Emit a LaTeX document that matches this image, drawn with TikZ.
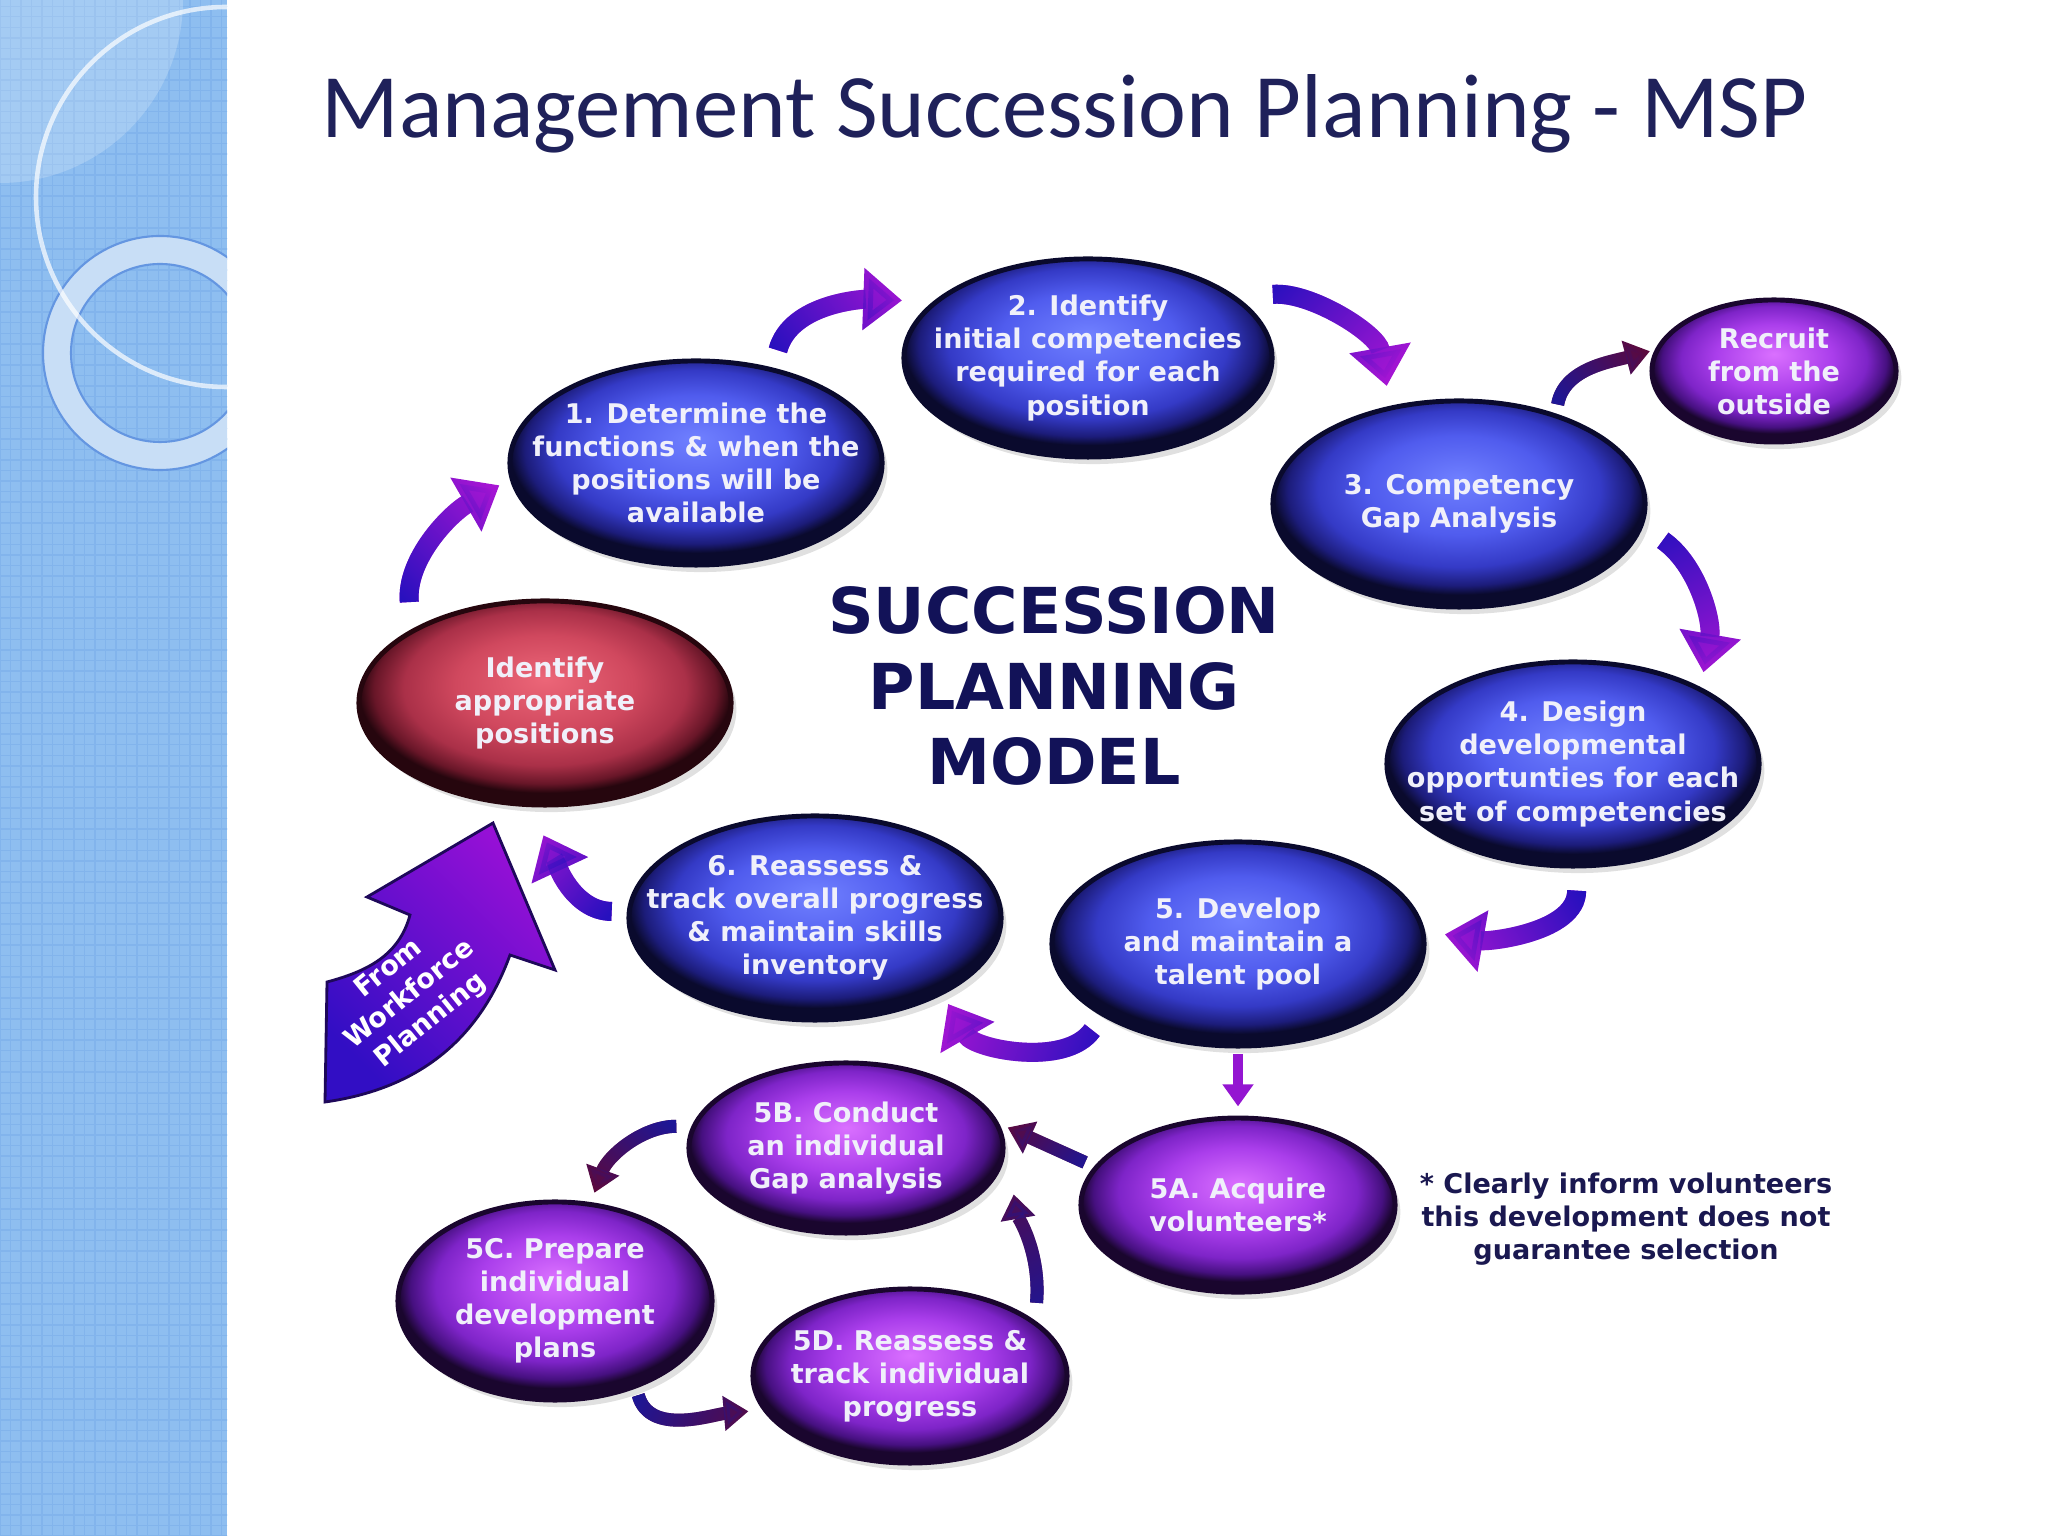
\documentclass[tikz,border=0pt]{standalone}
\usepackage{fontspec}
\usepackage{tikz}
\usetikzlibrary{positioning,arrows.meta,shapes.geometric,fadings,shadows,patterns}

\newfontfamily\slidefont{Carlito}
\newfontfamily\verdfont{DejaVu Sans}
\newcommand{\stagefont}{\verdfont\bfseries\fontsize{7.7}{9.4}\selectfont}

\definecolor{sidebar}{RGB}{142,190,240}
\definecolor{sidebarGrid}{RGB}{130,180,236}
\definecolor{ringFill}{RGB}{200,222,246}
\definecolor{ringEdge}{RGB}{100,150,225}
\definecolor{titleNavy}{RGB}{31,33,90}
\definecolor{modelNavy}{RGB}{18,18,88}
\definecolor{noteNavy}{RGB}{26,24,80}
\definecolor{stageText}{RGB}{240,240,250}

\definecolor{blueA}{RGB}{112,128,255}
\definecolor{blueB}{RGB}{80,92,238}
\definecolor{blueC}{RGB}{52,58,198}
\definecolor{blueD}{RGB}{28,28,122}
\definecolor{blueE}{RGB}{10,10,45}
\definecolor{purpA}{RGB}{218,112,255}
\definecolor{purpB}{RGB}{170,62,235}
\definecolor{purpC}{RGB}{126,36,200}
\definecolor{purpD}{RGB}{70,16,128}
\definecolor{purpE}{RGB}{26,6,46}
\definecolor{redA}{RGB}{236,102,120}
\definecolor{redB}{RGB}{208,72,94}
\definecolor{redC}{RGB}{170,48,72}
\definecolor{redD}{RGB}{104,22,40}
\definecolor{redE}{RGB}{38,6,14}

\definecolor{loopTail}{RGB}{38,16,190}
\definecolor{loopHead}{RGB}{168,22,212}
\definecolor{subTail}{RGB}{30,22,150}
\definecolor{subHead}{RGB}{92,10,62}
\definecolor{wfTail}{RGB}{50,14,196}
\definecolor{wfHead}{RGB}{150,16,214}
\definecolor{wfEdge}{RGB}{30,8,90}

\pgfdeclareradialshading{blueglow}{\pgfpoint{0bp}{6bp}}{color(0bp)=(blueA); color(12bp)=(blueB); color(19bp)=(blueC); color(23bp)=(blueD); color(25bp)=(blueE); color(50bp)=(blueE)}
\pgfdeclareradialshading{purpleglow}{\pgfpoint{0bp}{6bp}}{color(0bp)=(purpA); color(12bp)=(purpB); color(19bp)=(purpC); color(23bp)=(purpD); color(25bp)=(purpE); color(50bp)=(purpE)}
\pgfdeclareradialshading{redglow}{\pgfpoint{0bp}{6bp}}{color(0bp)=(redA); color(12bp)=(redB); color(19bp)=(redC); color(23bp)=(redD); color(25bp)=(redE); color(50bp)=(redE)}

\tikzfading[name=fade tail, left color=transparent!0, right color=transparent!100]

\tikzstyle{flow} = [line width=5.4pt, draw=loopHead, -{Triangle[length=11pt,width=17pt]}]
\tikzstyle{subflow} = [line width=3.7pt, draw=subHead, -{Triangle[length=7pt,width=9.5pt]}]
\tikzstyle{shortflow} = [line width=2.8pt, draw=loopHead!85!loopTail, -{Triangle[length=6.3pt,width=8.5pt]}]
\tikzset{%
	fadeloop/.style = { postaction={draw=loopTail, path fading=fade tail, fading angle=#1} },
	fadesub/.style = { postaction={draw=subTail, path fading=fade tail, fading angle=#1} }
}

\begin{document}
\begin{tikzpicture}[x=0.01cm, y=0.01cm]
\tikzset{%
	stage/.style = { ellipse, draw=blueE, line width=1.4pt, shading=blueglow, minimum width=3.72cm, minimum height=2.04cm, inner xsep=-1cm, inner ysep=0pt, text=stageText, font=\stagefont, align=center, drop shadow={shadow xshift=1.5pt, shadow yshift=-2pt, opacity=0.12, fill=black} },
	substage/.style = { stage, draw=purpE, shading=purpleglow, minimum width=3.14cm, minimum height=1.74cm },
	entry/.style = { stage, draw=redE, shading=redglow },
	note/.style = { text=noteNavy, font=\stagefont, align=center }
}
\useasboundingbox (0,0) rectangle (2048,1536);

% side bar
\fill[sidebar] (0,0) rectangle (227,1536);
\fill[pattern=grid, pattern color=sidebarGrid] (0,0) rectangle (227,1536);
\begin{scope}
	\clip (0,0) rectangle (227,1536);
	\fill[white, opacity=0.2] (0,1536) circle (183);
	\filldraw[draw=ringEdge, fill=ringFill, line width=0.6pt, even odd rule] (160,1183) circle (117) (160,1183) circle (89);
	\draw[white, opacity=0.7, line width=1.3pt] (226,1339) circle (190);
\end{scope}

\node(SlideTitle)		[anchor=base west, text=titleNavy, font=\slidefont\fontsize{25.8}{31}\selectfont] at (309,1398)
								{Management Succession Planning - MSP};

\node(Identify)			[entry] at (545,833)
								{Identify\\appropriate\\positions};
\node(Determine)		[stage] at (696,1073)
								{1. Determine the\\functions \& when the\\positions will be\\available};
\node(Competencies)	[stage, minimum width=3.68cm, minimum height=1.98cm] at (1088,1178)
								{2. Identify\\initial competencies\\required for each\\position};
\node(GapAnalysis)		[stage, minimum height=2.06cm] at (1459,1032)
								{3. Competency\\Gap Analysis};
\node(Recruit)			[substage, minimum width=2.44cm, minimum height=1.42cm] at (1774,1165)
								{Recruit\\from the\\outside};
\node(Design)			[stage] at (1573,772)
								{4. Design\\developmental\\opportunties for each\\set of competencies};
\node(Develop)			[stage] at (1238,592)
								{5. Develop\\and maintain a\\talent pool};
\node(Reassess)			[stage] at (815,618)
								{6. Reassess \&\\track overall progress\\\& maintain skills\\inventory};
\node(Acquire)			[substage, below=0.67cm of Develop]
								{5A. Acquire\\volunteers*};
\node(Conduct)			[substage, minimum height=1.70cm] at (846,388)
								{5B. Conduct\\an individual\\Gap analysis};
\node(Prepare)			[substage, minimum height=1.98cm] at (555,235)
								{5C. Prepare\\individual\\development\\plans};
\node(Track)			[substage] at (910,160)
								{5D. Reassess \&\\track individual\\progress};

\node(ModelTitle)		[text=modelNavy, font=\verdfont\bfseries\fontsize{18}{21.6}\selectfont, align=center] at (1054,850)
								{SUCCESSION\\PLANNING\\MODEL};
\node(Note)				[note] at (1626,317)
								{* Clearly inform volunteers\\this development does not\\guarantee selection};

% incoming arrow
\shadedraw[draw=wfEdge, line width=0.8pt, top color=wfHead, bottom color=wfTail, shading angle=-45]
	(325,434) to[out=8,in=250] (510,581) -- (555,566) -- (493,713) -- (367,639) -- (410,621) to[out=255,in=15] (327,554) -- cycle;
\node(Workforce)		[rotate=39, text=white, font=\stagefont, align=center] at (410,541)
								{From\\Workforce\\Planning};

\draw [flow, fadeloop=53, shorten <=7.7pt, shorten >=3.4pt]		(Identify.151) to[out=95,in=210] (Determine.185);
\draw [flow, fadeloop=20, shorten <=5.1pt, shorten >=8.8pt]		(Determine.51) to[out=75,in=178] (Competencies.160);
\draw [flow, fadeloop=-36, shorten <=10pt, shorten >=5.7pt]		(Competencies.22) to[out=5,in=100] (GapAnalysis.125);
\draw [subflow, fadesub=30, shorten <=2.6pt, shorten >=1.4pt]	(GapAnalysis.43) to[out=80,in=195] (Recruit.170);
\draw [flow, fadeloop=-77, shorten <=6.8pt, shorten >=4.3pt]		(GapAnalysis.-7) to[out=-35,in=80] (Design.31);
\draw [flow, fadeloop=197, shorten <=6.3pt, shorten >=5.7pt]		(Design.-88) to[out=-90,in=-10] (Develop.4);
\draw [flow, fadeloop=171, shorten <=4.8pt, shorten >=3pt]		(Develop.208) to[out=235,in=-60] (Reassess.-31);
\draw [flow, fadeloop=137, shorten <=4.3pt, shorten >=8.8pt]		(Reassess.178) to[out=180,in=-65] (Identify.262);
\draw [shortflow, shorten <=1.7pt, shorten >=2.6pt]				(Develop.south) -- (Acquire.north);

\draw [subflow, fadesub=154, shorten <=2.8pt, shorten >=2.6pt]	(Acquire.165) -- (Conduct.9);
\draw [subflow, fadesub=222, shorten <=4.3pt, shorten >=2.8pt]	(Conduct.172) to[out=180,in=70] (Prepare.70);
\draw [subflow, fadesub=-11, shorten <=2pt, shorten >=4pt]		(Prepare.-47) to[out=-75,in=185] (Track.193);
\draw [subflow, fadesub=97, shorten <=5pt, shorten >=13.4pt]		(Track.24) to[out=85,in=-80] (Conduct.east);

\end{tikzpicture}
\end{document}
